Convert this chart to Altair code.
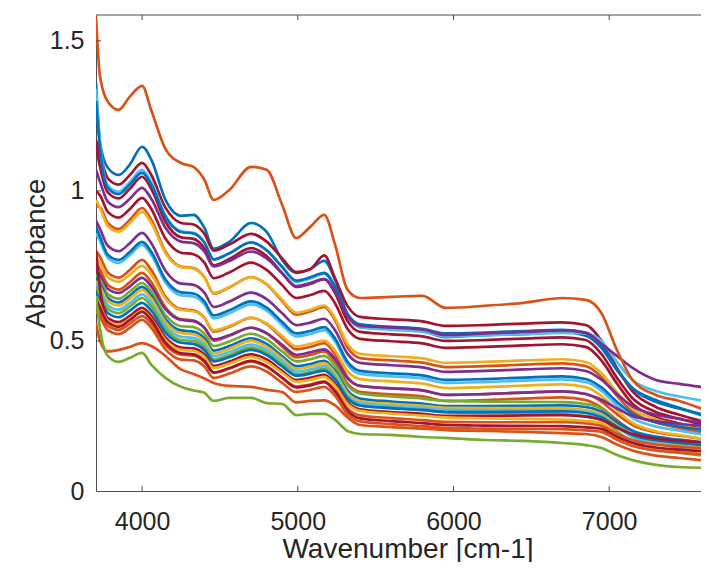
import altair as alt
import pandas as pd

# ---------------- data ----------------
WAVENUMBER = [3704, 3730, 3780, 3850, 3920, 4000, 4060, 4150, 4250, 4330, 4400, 4460,
              4560, 4700, 4800, 4900, 4990, 5080, 5170, 5240, 5320, 5400, 5600, 5800,
              5950, 6200, 6450, 6700, 6850, 6950, 7050, 7150, 7300, 7450, 7650]

X_TICKS = [4000, 5000, 6000, 7000]
Y_TICKS = [0.5, 1.0, 1.5]

SPEC_01 = [1.36, 1.16, 1.077, 1.053, 1.087, 1.147, 1.103, 0.97, 0.917, 0.92, 0.877, 0.807, 0.83, 0.893, 0.863, 0.77, 0.727, 0.74, 0.767, 0.703, 0.587, 0.547, 0.54, 0.533, 0.513, 0.52, 0.523, 0.53, 0.517, 0.477, 0.403, 0.343, 0.303, 0.277, 0.243]
SPEC_02 = [1.17, 1.12, 1.042, 1.021, 1.052, 1.093, 1.052, 0.944, 0.893, 0.888, 0.857, 0.801, 0.821, 0.857, 0.831, 0.775, 0.729, 0.739, 0.785, 0.708, 0.616, 0.58, 0.572, 0.565, 0.55, 0.553, 0.558, 0.562, 0.553, 0.501, 0.41, 0.332, 0.28, 0.254, 0.225]
SPEC_03 = [1.34, 1.16, 1.018, 0.997, 1.028, 1.07, 1.028, 0.918, 0.865, 0.86, 0.829, 0.771, 0.792, 0.829, 0.802, 0.745, 0.697, 0.708, 0.724, 0.676, 0.582, 0.545, 0.537, 0.53, 0.515, 0.518, 0.523, 0.527, 0.525, 0.50, 0.43, 0.37, 0.333, 0.315, 0.297]
SPEC_04 = [1.15, 1.08, 0.995, 0.975, 1.006, 1.047, 1.006, 0.897, 0.845, 0.84, 0.809, 0.752, 0.773, 0.809, 0.783, 0.726, 0.68, 0.69, 0.706, 0.659, 0.566, 0.53, 0.522, 0.515, 0.50, 0.503, 0.508, 0.512, 0.503, 0.457, 0.377, 0.309, 0.263, 0.241, 0.215]
SPEC_05 = [1.30, 1.14, 1.01, 0.989, 1.02, 1.06, 1.02, 0.914, 0.863, 0.858, 0.828, 0.772, 0.792, 0.828, 0.802, 0.747, 0.701, 0.712, 0.727, 0.681, 0.59, 0.555, 0.547, 0.54, 0.525, 0.528, 0.533, 0.537, 0.528, 0.484, 0.407, 0.341, 0.297, 0.275, 0.25]
SPEC_06 = [1.07, 1.03, 0.964, 0.946, 0.973, 1.01, 0.973, 0.877, 0.831, 0.826, 0.798, 0.748, 0.766, 0.798, 0.775, 0.725, 0.683, 0.693, 0.706, 0.665, 0.582, 0.55, 0.545, 0.538, 0.52, 0.525, 0.53, 0.535, 0.527, 0.49, 0.45, 0.41, 0.37, 0.357, 0.343]
SPEC_07 = [1.00, 0.985, 0.93, 0.911, 0.939, 0.977, 0.939, 0.841, 0.794, 0.789, 0.761, 0.709, 0.728, 0.761, 0.737, 0.686, 0.643, 0.653, 0.667, 0.625, 0.54, 0.507, 0.499, 0.492, 0.477, 0.48, 0.485, 0.489, 0.48, 0.435, 0.358, 0.291, 0.247, 0.225, 0.20]
SPEC_08 = [0.95, 0.945, 0.893, 0.873, 0.903, 0.943, 0.903, 0.798, 0.748, 0.743, 0.713, 0.658, 0.678, 0.713, 0.688, 0.633, 0.588, 0.598, 0.613, 0.568, 0.478, 0.443, 0.435, 0.428, 0.413, 0.416, 0.421, 0.425, 0.416, 0.38, 0.317, 0.264, 0.228, 0.21, 0.19]
SPEC_09 = [0.97, 0.943, 0.883, 0.864, 0.892, 0.93, 0.892, 0.793, 0.746, 0.741, 0.712, 0.66, 0.679, 0.712, 0.689, 0.637, 0.594, 0.604, 0.618, 0.575, 0.49, 0.457, 0.449, 0.442, 0.427, 0.43, 0.435, 0.439, 0.43, 0.393, 0.329, 0.275, 0.239, 0.22, 0.20]
SPEC_10 = [0.90, 0.873, 0.817, 0.799, 0.825, 0.86, 0.825, 0.734, 0.691, 0.687, 0.661, 0.613, 0.631, 0.661, 0.639, 0.592, 0.553, 0.561, 0.574, 0.535, 0.457, 0.427, 0.419, 0.412, 0.397, 0.40, 0.405, 0.409, 0.40, 0.371, 0.323, 0.282, 0.254, 0.24, 0.225]
SPEC_11 = [0.86, 0.833, 0.777, 0.76, 0.786, 0.82, 0.786, 0.695, 0.652, 0.648, 0.622, 0.575, 0.592, 0.622, 0.601, 0.553, 0.515, 0.523, 0.536, 0.498, 0.42, 0.39, 0.382, 0.375, 0.36, 0.363, 0.368, 0.372, 0.363, 0.334, 0.285, 0.243, 0.215, 0.201, 0.185]
SPEC_12 = [0.88, 0.847, 0.787, 0.77, 0.796, 0.83, 0.796, 0.705, 0.662, 0.658, 0.632, 0.585, 0.602, 0.632, 0.611, 0.563, 0.525, 0.533, 0.546, 0.508, 0.43, 0.40, 0.392, 0.385, 0.37, 0.373, 0.378, 0.382, 0.373, 0.345, 0.297, 0.256, 0.229, 0.215, 0.20]
SPEC_13 = [0.80, 0.78, 0.728, 0.711, 0.736, 0.77, 0.736, 0.648, 0.606, 0.602, 0.577, 0.531, 0.547, 0.577, 0.556, 0.51, 0.472, 0.48, 0.493, 0.455, 0.379, 0.35, 0.342, 0.335, 0.32, 0.323, 0.328, 0.332, 0.323, 0.298, 0.256, 0.22, 0.196, 0.184, 0.17]
SPEC_14 = [0.76, 0.738, 0.687, 0.671, 0.695, 0.727, 0.695, 0.612, 0.572, 0.568, 0.544, 0.501, 0.517, 0.544, 0.525, 0.481, 0.445, 0.453, 0.465, 0.429, 0.358, 0.33, 0.322, 0.315, 0.30, 0.303, 0.308, 0.312, 0.303, 0.278, 0.236, 0.20, 0.176, 0.164, 0.15]
SPEC_15 = [0.78, 0.76, 0.712, 0.697, 0.72, 0.75, 0.72, 0.641, 0.603, 0.599, 0.577, 0.535, 0.55, 0.577, 0.558, 0.516, 0.482, 0.49, 0.501, 0.467, 0.399, 0.373, 0.365, 0.358, 0.343, 0.346, 0.351, 0.355, 0.346, 0.317, 0.269, 0.227, 0.199, 0.186, 0.17]
SPEC_16 = [0.74, 0.72, 0.674, 0.66, 0.681, 0.71, 0.681, 0.606, 0.57, 0.566, 0.544, 0.505, 0.519, 0.544, 0.526, 0.487, 0.454, 0.462, 0.472, 0.44, 0.375, 0.35, 0.342, 0.335, 0.32, 0.323, 0.328, 0.332, 0.323, 0.304, 0.275, 0.25, 0.233, 0.224, 0.215]
SPEC_17 = [0.72, 0.702, 0.656, 0.641, 0.664, 0.693, 0.664, 0.586, 0.549, 0.546, 0.524, 0.483, 0.498, 0.524, 0.505, 0.465, 0.432, 0.439, 0.45, 0.417, 0.351, 0.325, 0.315, 0.308, 0.30, 0.298, 0.297, 0.296, 0.29, 0.275, 0.227, 0.186, 0.159, 0.145, 0.13]
SPEC_18 = [0.71, 0.69, 0.643, 0.628, 0.65, 0.68, 0.65, 0.572, 0.535, 0.531, 0.509, 0.468, 0.483, 0.509, 0.49, 0.449, 0.416, 0.423, 0.434, 0.401, 0.334, 0.308, 0.298, 0.291, 0.283, 0.283, 0.284, 0.285, 0.28, 0.265, 0.23, 0.201, 0.181, 0.171, 0.16]
SPEC_19 = [0.70, 0.68, 0.633, 0.618, 0.64, 0.67, 0.64, 0.563, 0.526, 0.522, 0.50, 0.459, 0.474, 0.50, 0.481, 0.441, 0.407, 0.415, 0.426, 0.393, 0.326, 0.30, 0.29, 0.284, 0.277, 0.276, 0.276, 0.276, 0.27, 0.256, 0.218, 0.185, 0.163, 0.152, 0.14]
SPEC_20 = [0.69, 0.667, 0.619, 0.604, 0.626, 0.655, 0.626, 0.55, 0.514, 0.51, 0.488, 0.449, 0.463, 0.488, 0.47, 0.431, 0.398, 0.405, 0.416, 0.384, 0.318, 0.293, 0.283, 0.277, 0.27, 0.269, 0.269, 0.269, 0.263, 0.25, 0.212, 0.18, 0.158, 0.147, 0.135]
SPEC_21 = [0.68, 0.655, 0.607, 0.593, 0.614, 0.643, 0.614, 0.539, 0.503, 0.50, 0.478, 0.439, 0.453, 0.478, 0.46, 0.421, 0.389, 0.396, 0.407, 0.375, 0.31, 0.285, 0.276, 0.269, 0.263, 0.26, 0.258, 0.256, 0.25, 0.241, 0.199, 0.164, 0.14, 0.128, 0.115]
SPEC_22 = [0.66, 0.638, 0.593, 0.579, 0.60, 0.627, 0.60, 0.528, 0.494, 0.49, 0.47, 0.432, 0.446, 0.47, 0.453, 0.415, 0.384, 0.391, 0.401, 0.371, 0.309, 0.285, 0.276, 0.27, 0.263, 0.263, 0.264, 0.265, 0.26, 0.246, 0.214, 0.187, 0.169, 0.16, 0.15]
SPEC_23 = [0.80, 0.673, 0.576, 0.563, 0.583, 0.61, 0.583, 0.512, 0.478, 0.475, 0.455, 0.417, 0.431, 0.455, 0.438, 0.40, 0.37, 0.377, 0.387, 0.357, 0.296, 0.272, 0.263, 0.257, 0.25, 0.25, 0.252, 0.253, 0.248, 0.237, 0.211, 0.19, 0.175, 0.168, 0.16]
SPEC_24 = [0.65, 0.617, 0.567, 0.553, 0.573, 0.60, 0.573, 0.503, 0.47, 0.467, 0.447, 0.41, 0.424, 0.447, 0.43, 0.394, 0.364, 0.37, 0.38, 0.35, 0.29, 0.267, 0.258, 0.251, 0.245, 0.242, 0.24, 0.238, 0.233, 0.226, 0.191, 0.161, 0.141, 0.131, 0.12]
SPEC_25 = [0.62, 0.595, 0.55, 0.537, 0.557, 0.583, 0.557, 0.487, 0.454, 0.451, 0.431, 0.394, 0.408, 0.431, 0.414, 0.378, 0.348, 0.355, 0.365, 0.335, 0.275, 0.252, 0.243, 0.236, 0.23, 0.229, 0.229, 0.229, 0.225, 0.217, 0.191, 0.17, 0.155, 0.148, 0.14]
SPEC_26 = [0.64, 0.611, 0.562, 0.547, 0.569, 0.597, 0.569, 0.494, 0.459, 0.455, 0.434, 0.395, 0.409, 0.434, 0.416, 0.377, 0.345, 0.352, 0.363, 0.331, 0.267, 0.242, 0.233, 0.226, 0.22, 0.218, 0.217, 0.216, 0.212, 0.207, 0.181, 0.16, 0.145, 0.138, 0.13]
SPEC_27 = [0.60, 0.58, 0.536, 0.523, 0.543, 0.57, 0.543, 0.472, 0.438, 0.435, 0.415, 0.377, 0.391, 0.415, 0.398, 0.36, 0.33, 0.337, 0.347, 0.317, 0.256, 0.232, 0.223, 0.216, 0.21, 0.208, 0.207, 0.206, 0.202, 0.197, 0.171, 0.15, 0.135, 0.128, 0.12]
SPEC_28 = [0.56, 0.50, 0.465, 0.47, 0.48, 0.493, 0.483, 0.45, 0.405, 0.39, 0.375, 0.36, 0.35, 0.347, 0.337, 0.33, 0.295, 0.30, 0.302, 0.285, 0.245, 0.22, 0.213, 0.208, 0.203, 0.20, 0.197, 0.193, 0.19, 0.18, 0.155, 0.135, 0.118, 0.11, 0.10]
SPEC_29 = [0.65, 0.54, 0.45, 0.43, 0.443, 0.46, 0.42, 0.377, 0.347, 0.335, 0.327, 0.30, 0.31, 0.31, 0.293, 0.29, 0.253, 0.257, 0.257, 0.237, 0.20, 0.19, 0.187, 0.18, 0.177, 0.17, 0.167, 0.16, 0.153, 0.143, 0.12, 0.103, 0.087, 0.08, 0.077]
SPEC_30 = [1.58, 1.38, 1.297, 1.27, 1.313, 1.35, 1.267, 1.14, 1.093, 1.08, 1.037, 0.97, 1.003, 1.08, 1.07, 0.953, 0.843, 0.88, 0.92, 0.82, 0.67, 0.643, 0.647, 0.65, 0.61, 0.617, 0.627, 0.643, 0.637, 0.593, 0.47, 0.37, 0.32, 0.30, 0.263]

BLUE, ORANGE, YELLOW, PURPLE = "#0072BD", "#D95319", "#EDB120", "#7E2F8E"
GREEN, CYAN, CRIMSON = "#77AC30", "#4DBEEE", "#A2142F"

SPECTRA = [SPEC_01, SPEC_02, SPEC_03, SPEC_04, SPEC_05, SPEC_06, SPEC_07, SPEC_08,
           SPEC_09, SPEC_10, SPEC_11, SPEC_12, SPEC_13, SPEC_14, SPEC_15, SPEC_16,
           SPEC_17, SPEC_18, SPEC_19, SPEC_20, SPEC_21, SPEC_22, SPEC_23, SPEC_24,
           SPEC_25, SPEC_26, SPEC_27, SPEC_28, SPEC_29, SPEC_30]
COLORS = [BLUE, CRIMSON, CYAN, CRIMSON, BLUE, PURPLE, CRIMSON, ORANGE,
          YELLOW, PURPLE, CYAN, BLUE, ORANGE, ORANGE, YELLOW, PURPLE,
          GREEN, BLUE, YELLOW, CYAN, GREEN, BLUE, CRIMSON, YELLOW,
          ORANGE, CRIMSON, ORANGE, ORANGE, GREEN, ORANGE]

# ---------------- build table ----------------
rows = []
ids = []
for i, vals in enumerate(SPECTRA):
    assert len(vals) == len(WAVENUMBER), (i, len(vals))
    sid = f"s{i:02d}"
    ids.append(sid)
    for wn, a in zip(WAVENUMBER, vals):
        rows.append({"wn": wn, "absorbance": a, "id": sid, "ord": i})
df = pd.DataFrame(rows)

W, H = 605, 476
AX = "#4d4d4d"
TXT = "#262626"
FONT = "Liberation Sans"

xscale = alt.Scale(domain=[3704, 7590], nice=False, zero=False)
yscale = alt.Scale(domain=[0, 1.586], nice=False, zero=False)

x_axis = alt.Axis(values=X_TICKS, format="d", title="Wavenumber [cm-1]",
                  grid=False, ticks=False, domain=True, domainColor=AX, domainWidth=1,
                  labelFont=FONT, labelFontSize=25, labelColor=TXT, labelPadding=18,
                  labelFlush=False,
                  titleFont=FONT, titleFontSize=28, titleFontWeight="normal",
                  titleColor=TXT, titleX=311.5, titleY=66, titleAlign="center",
                  titleBaseline="alphabetic")
y_axis = alt.Axis(values=[0] + Y_TICKS, format="~g", title="Absorbance",
                  grid=False, ticks=False, domain=True, domainColor=AX, domainWidth=1,
                  labelFont=FONT, labelFontSize=25, labelColor=TXT, labelPadding=12,
                  labelFlush=False,
                  titleFont=FONT, titleFontSize=28, titleFontWeight="normal",
                  titleColor=TXT, titleX=-52, titleY=238, titleAngle=270,
                  titleAlign="center", titleBaseline="alphabetic")

lines = alt.Chart(df).mark_line(strokeWidth=2.7, clip=True, interpolate="monotone").encode(
    x=alt.X("wn:Q", scale=xscale, axis=x_axis),
    y=alt.Y("absorbance:Q", scale=yscale, axis=y_axis),
    color=alt.Color("id:N", scale=alt.Scale(domain=ids, range=COLORS), legend=None),
    order=alt.Order("ord:Q"),
)

xt_df = pd.DataFrame({"t": X_TICKS})
yt_df = pd.DataFrame({"t": Y_TICKS})

bottom_ticks = alt.Chart(xt_df).mark_rule(color=AX, strokeWidth=1).encode(
    x=alt.X("t:Q", scale=xscale, axis=x_axis), y=alt.value(H), y2=alt.value(H - 5))
top_ticks = alt.Chart(xt_df).mark_rule(color=AX, strokeWidth=1).encode(
    x=alt.X("t:Q", scale=xscale, axis=x_axis), y=alt.value(0), y2=alt.value(5))
left_ticks = alt.Chart(yt_df).mark_rule(color=AX, strokeWidth=1).encode(
    y=alt.Y("t:Q", scale=yscale, axis=y_axis), x=alt.value(0), x2=alt.value(5))
top_border = alt.Chart(pd.DataFrame({"t": [0]})).mark_rule(color=AX, strokeWidth=1).encode(
    x=alt.value(0), x2=alt.value(W), y=alt.value(0))

chart = alt.layer(lines, bottom_ticks, top_ticks, left_ticks, top_border).properties(
    width=W, height=H,
    autosize=alt.AutoSizeParams(type="none"),
    padding={"left": 88, "top": 7, "right": 0, "bottom": 71},
).configure_view(stroke=None)

chart.save("out.html", embed_options={"renderer": "svg", "actions": False})
